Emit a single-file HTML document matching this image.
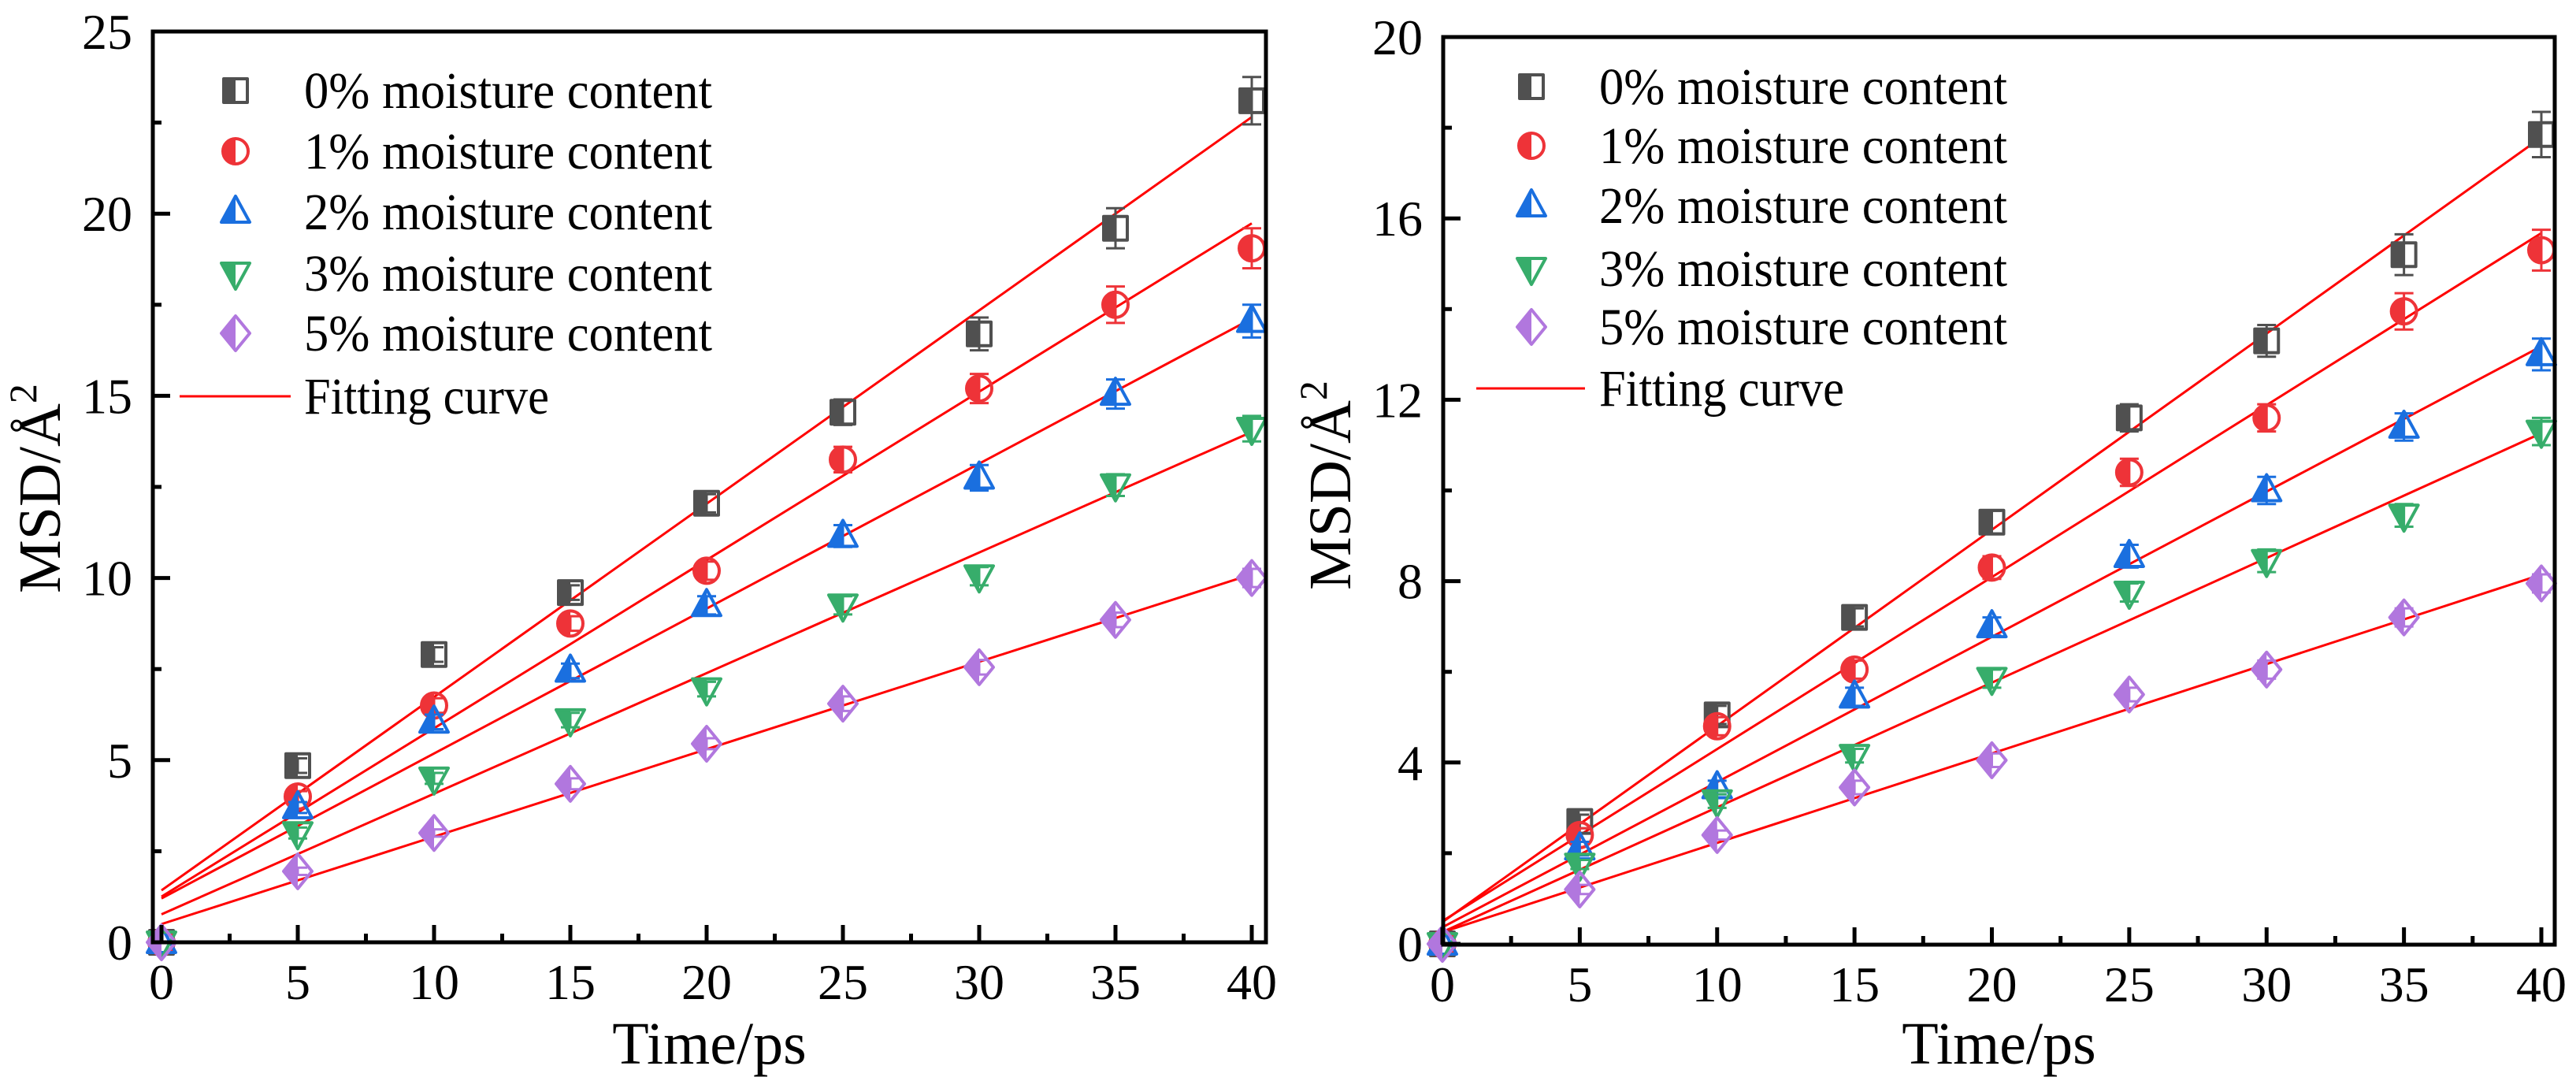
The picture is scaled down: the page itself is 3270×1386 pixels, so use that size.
<!DOCTYPE html>
<html><head><meta charset="utf-8"><style>
html,body{margin:0;padding:0;background:#fff;}
svg{display:block;}
svg text{font-family:"Liberation Serif","DejaVu Serif",serif;}
</style></head><body>
<svg id="chart" width="3270" height="1386" viewBox="0 0 3270 1386" xmlns="http://www.w3.org/2000/svg"></svg>
<script>
const timeValues = [0,5,10,15,20,25,30,35,40];
const seriesLabels = ["0% moisture content","1% moisture content","2% moisture content","3% moisture content","5% moisture content"];
const leftMsd0 = [0,4.85,7.9,9.6,12.05,14.55,16.7,19.6,23.1];
const leftMsd1 = [0,4.0,6.5,8.75,10.2,13.25,15.2,17.5,19.05];
const leftMsd2 = [0,3.7,6.05,7.45,9.25,11.15,12.75,15.05,17.05];
const leftMsd3 = [0,3.0,4.5,6.1,6.95,9.25,10.05,12.55,14.1];
const leftMsd5 = [0,1.95,3.0,4.35,5.45,6.55,7.55,8.85,10.0];
const leftErr0 = [0,0.2,0.2,0.2,0.25,0.35,0.45,0.55,0.65];
const leftErr1 = [0,0.15,0.2,0.2,0.25,0.35,0.4,0.5,0.55];
const leftErr2 = [0,0.15,0.2,0.2,0.25,0.3,0.35,0.4,0.45];
const leftErr3 = [0,0.15,0.15,0.2,0.2,0.25,0.25,0.3,0.35];
const leftErr5 = [0,0.1,0.1,0.15,0.15,0.2,0.2,0.2,0.25];
const rightMsd0 = [0,2.7,5.05,7.2,9.3,11.6,13.3,15.2,17.85];
const rightMsd1 = [0,2.4,4.8,6.05,8.3,10.4,11.6,13.95,15.3];
const rightMsd2 = [0,2.1,3.45,5.45,7.0,8.55,10.0,11.4,13.0];
const rightMsd3 = [0,1.75,3.15,4.15,5.85,7.75,8.45,9.45,11.3];
const rightMsd5 = [0,1.2,2.4,3.45,4.05,5.5,6.05,7.2,7.95];
const rightErr0 = [0,0.15,0.2,0.2,0.25,0.3,0.35,0.45,0.5];
const rightErr1 = [0,0.15,0.2,0.2,0.25,0.3,0.3,0.4,0.45];
const rightErr2 = [0,0.15,0.15,0.2,0.2,0.25,0.3,0.3,0.35];
const rightErr3 = [0,0.1,0.15,0.15,0.2,0.2,0.25,0.25,0.3];
const rightErr5 = [0,0.1,0.1,0.15,0.15,0.15,0.2,0.2,0.2];
const xTickLabels = ["0","5","10","15","20","25","30","35","40"];
const leftYTickLabels = ["0","5","10","15","20","25"];
const rightYTickLabels = ["0","4","8","12","16","20"];

const colors = ["#505050","#ee3338","#1a6fdf","#37ad6b","#b177de"];
const shapes = ["square","circle","up","down","diamond"];
const NS = "http://www.w3.org/2000/svg";
const svg = document.getElementById("chart");
let uid = 0;
function mk(tag, attrs, parent){
  const e = document.createElementNS(NS, tag);
  for (const k in attrs) e.setAttribute(k, attrs[k]);
  if (tag==="text") e.style.fontFamily = '"Liberation Serif", "DejaVu Serif", serif';
  (parent||svg).appendChild(e);
  return e;
}
function shapePath(shape, cx, cy){
  if (shape==="square") return `M${cx-15},${cy-15}H${cx+15}V${cy+15}H${cx-15}Z`;
  if (shape==="up") return `M${cx},${cy-20}L${cx+18},${cy+13}H${cx-18}Z`;
  if (shape==="down") return `M${cx},${cy+20}L${cx+18},${cy-13}H${cx-18}Z`;
  if (shape==="diamond") return `M${cx},${cy-22}L${cx+18},${cy}L${cx},${cy+22}L${cx-18},${cy}Z`;
  return null;
}
function marker(g, shape, color, cx, cy, name){
  const id = "clip"+(uid++);
  const cp = mk("clipPath",{id:id},g);
  mk("rect",{x:cx-30,y:cy-30,width:30,height:60},cp);
  let outline, fill;
  if (shape==="circle"){
    fill = mk("circle",{cx:cx,cy:cy,r:16,fill:color,"clip-path":`url(#${id})`},g);
    outline = mk("circle",{cx:cx,cy:cy,r:16,fill:"none",stroke:color,"stroke-width":4},g);
  } else {
    const d = shapePath(shape,cx,cy);
    fill = mk("path",{d:d,fill:color,"clip-path":`url(#${id})`},g);
    outline = mk("path",{d:d,fill:"none",stroke:color,"stroke-width":4,"stroke-linejoin":"round"},g);
  }
  
  
  
  
}
function regress(xs, ys){
  const n=xs.length; let mx=0,my=0;
  for(let i=0;i<n;i++){mx+=xs[i];my+=ys[i];}
  mx/=n;my/=n; let sxy=0,sxx=0;
  for(let i=0;i<n;i++){sxy+=(xs[i]-mx)*(ys[i]-my);sxx+=(xs[i]-mx)*(xs[i]-mx);}
  const b=sxy/sxx; return [my-b*mx,b];
}
function panel(cfg){
  const g = mk("g",{});
  
  
  const X = v => cfg.x0 + v/40*(cfg.x40-cfg.x0);
  const Y = v => cfg.y0 - v/cfg.ymax*(cfg.y0-cfg.ytop);
  cfg.series.forEach((ys,si)=>{
    const [a,b] = regress(timeValues, ys);
    const l = mk("line",{x1:X(0),y1:Y(a),x2:X(40),y2:Y(a+b*40),stroke:"#ff0000","stroke-width":3},g);
    
    
  });
  cfg.series.forEach((ys,si)=>{
    const errs = cfg.errs[si];
    ys.forEach((v,i)=>{
      const cx=X(timeValues[i]), e=errs[i];
      if (e>0){
        const eb = mk("path",{d:`M${cx},${Y(v+e)}V${Y(v-e)}M${cx-12},${Y(v+e)}H${cx+12}M${cx-12},${Y(v-e)}H${cx+12}`,stroke:colors[si],"stroke-width":3,fill:"none"},g);
        
        
      }
      marker(g, shapes[si], colors[si], cx, Y(v), 'point-s'+si+'-t'+timeValues[i]);
    });
  });
  const fr = mk("rect",{x:cfg.fl,y:cfg.ytop,width:cfg.fr-cfg.fl,height:cfg.fb-cfg.ytop,fill:"none",stroke:"#000","stroke-width":5},g);
  
  
  for (let t=0;t<=40;t+=2.5){
    const major = t%5===0;
    const tk = mk("line",{x1:X(t),x2:X(t),y1:cfg.fb,y2:cfg.fb-(major?22:11),stroke:"#000","stroke-width":5},g);
    
    
  }
  xTickLabels.forEach((s,i)=>{
    const tx = mk("text",{x:X(timeValues[i]),y:cfg.fb+72,"font-size":64,"text-anchor":"middle"},g);
    tx.textContent=s;
    
    
  });
  for (let v=0; v<=cfg.ymax+1e-9; v+=cfg.ystep/2){
    const major = Math.abs(v/cfg.ystep-Math.round(v/cfg.ystep))<1e-6;
    const tk = mk("line",{x1:cfg.fl,x2:cfg.fl+(major?22:11),y1:Y(v),y2:Y(v),stroke:"#000","stroke-width":5},g);
    
    
  }
  cfg.yTicks.forEach((s,i)=>{
    const tx = mk("text",{x:cfg.fl-26,y:Y(i*cfg.ystep)+22,"font-size":64,"text-anchor":"end"},g);
    tx.textContent=s;
    
    
  });
  const xt = mk("text",{x:(cfg.fl+cfg.fr)/2,y:1350,"font-size":76,"text-anchor":"middle"},g);
  xt.textContent="Time/ps";
  
  
  const yt = mk("text",{x:0,y:0,"font-size":76,"text-anchor":"middle",transform:`translate(${cfg.fl-118},${cfg.ytitleY}) rotate(-90)`},g);
  yt.textContent="MSD/Å";
  const sup = mk("tspan",{"font-size":50,dy:-30},yt);
  sup.textContent="2";
  
  
  cfg.legRows.forEach((ry,i)=>{
    if (i<5){
      marker(g, shapes[i], colors[i], cfg.legMx, ry, 'legend-marker-'+i);
      const t = mk("text",{x:cfg.legTx,y:ry+22,"font-size":66,textLength:cfg.legW,lengthAdjust:"spacingAndGlyphs"},g);
      t.textContent=seriesLabels[i];
      
      
    } else {
      const l = mk("line",{x1:cfg.legL1,x2:cfg.legL2,y1:ry,y2:ry,stroke:"#ff0000","stroke-width":3},g);
      
      
      const t = mk("text",{x:cfg.legTx,y:ry+22,"font-size":66,textLength:Math.round(cfg.legW*0.6),lengthAdjust:"spacingAndGlyphs"},g);
      t.textContent="Fitting curve";
      
      
    }
  });
}
panel({name:"left-panel",x0:205,x40:1589,fl:194,fr:1607,ytop:40,fb:1196,y0:1196,ymax:25,ystep:5,
  yTicks:leftYTickLabels,ytitleY:620,legW:518,
  series:[leftMsd0,leftMsd1,leftMsd2,leftMsd3,leftMsd5],errs:[leftErr0,leftErr1,leftErr2,leftErr3,leftErr5],
  legRows:[115,192,269,347,423,503],legMx:299,legTx:386,legL1:228,legL2:369});
panel({name:"right-panel",x0:1831,x40:3226,fl:1832,fr:3243,ytop:47,fb:1199,y0:1198,ymax:20,ystep:4,
  yTicks:rightYTickLabels,ytitleY:616,legW:518,
  series:[rightMsd0,rightMsd1,rightMsd2,rightMsd3,rightMsd5],errs:[rightErr0,rightErr1,rightErr2,rightErr3,rightErr5],
  legRows:[110,185,261,341,415,493],legMx:1944,legTx:2030,legL1:1874,legL2:2012});
</script>
</body></html>
